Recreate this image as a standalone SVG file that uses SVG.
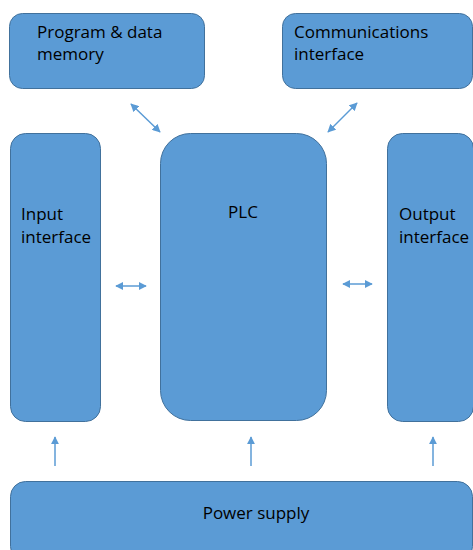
<svg xmlns="http://www.w3.org/2000/svg" width="473" height="550" viewBox="0 0 473 550">
<style>
.box{fill:#5B9BD5;stroke:#41719C;stroke-width:1}
.t{font-family:"Open Sans","Noto Sans",sans-serif;font-size:17px;fill:#000}
.c{stroke:#5B9BD5;stroke-width:1.5;fill:none}
</style>
<defs>
<marker id="ah" viewBox="0 0 10 10" refX="9" refY="5" markerWidth="5.5" markerHeight="5.5" orient="auto-start-reverse">
<path d="M0,0 L10,5 L0,10 z" fill="#5B9BD5"/>
</marker>
</defs>
<rect width="473" height="550" fill="#fff"/>
<g id="memory">
<rect class="box" x="9.5" y="13.5" width="195" height="75" rx="13"/>
<text class="t" x="37" y="38">Program &amp; data</text>
<text class="t" x="37" y="60">memory</text>
</g>
<g id="comms">
<rect class="box" x="282.5" y="13.5" width="190" height="75" rx="13"/>
<text class="t" x="294" y="38">Communications</text>
<text class="t" x="294" y="60">interface</text>
</g>
<g id="input">
<rect class="box" x="10.5" y="133.5" width="90" height="288" rx="15"/>
<text class="t" x="21" y="220">Input</text>
<text class="t" x="21" y="243">interface</text>
</g>
<g id="plc">
<rect class="box" x="160.5" y="133.5" width="166" height="287" rx="30"/>
<text class="t" x="243" y="218" text-anchor="middle">PLC</text>
</g>
<g id="output">
<rect class="box" x="387.5" y="133.5" width="86" height="288" rx="15"/>
<text class="t" x="399" y="220">Output</text>
<text class="t" x="399" y="243">interface</text>
</g>
<g id="power">
<rect class="box" x="10.5" y="481.5" width="462" height="80" rx="15"/>
<text class="t" x="256" y="519" text-anchor="middle">Power supply</text>
</g>
<g id="connectors">
<line class="c" x1="131" y1="104" x2="160" y2="132" marker-start="url(#ah)" marker-end="url(#ah)"/>
<line class="c" x1="357" y1="103" x2="328" y2="132" marker-start="url(#ah)" marker-end="url(#ah)"/>
<line class="c" x1="116" y1="286" x2="146" y2="286" marker-start="url(#ah)" marker-end="url(#ah)"/>
<line class="c" x1="343" y1="284" x2="372" y2="284" marker-start="url(#ah)" marker-end="url(#ah)"/>
<line class="c" x1="55" y1="466" x2="55" y2="437" marker-end="url(#ah)"/>
<line class="c" x1="251" y1="466" x2="251" y2="437" marker-end="url(#ah)"/>
<line class="c" x1="433" y1="466" x2="433" y2="437" marker-end="url(#ah)"/>
</g>
</svg>
